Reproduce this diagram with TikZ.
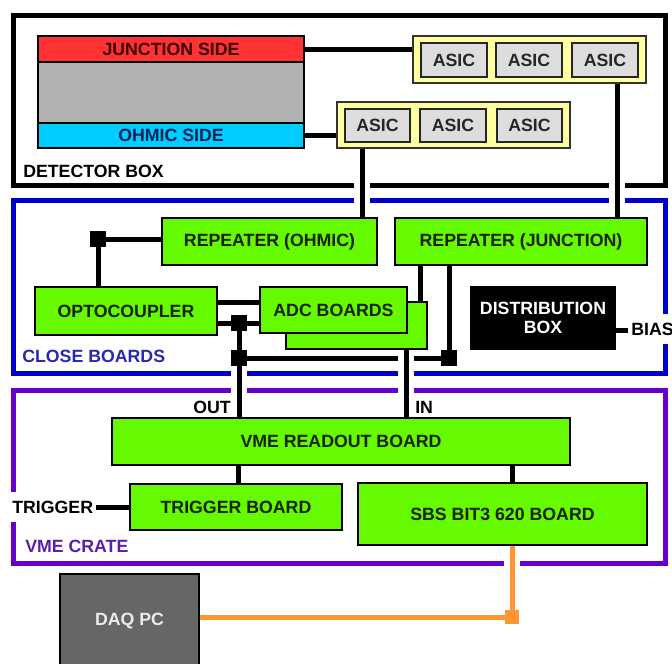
\documentclass[tikz,border=0pt]{standalone}
\usepackage{fontspec}
\setmainfont{Liberation Sans}
\definecolor{boardgreen}{RGB}{102,250,0}
\definecolor{boardtext}{RGB}{16,32,0}
\definecolor{juncred}{RGB}{255,51,51}
\definecolor{junctext}{RGB}{60,0,0}
\definecolor{ohmcyan}{RGB}{0,204,255}
\definecolor{ohmtext}{RGB}{0,34,85}
\definecolor{detgray}{RGB}{178,178,178}
\definecolor{asicyellow}{RGB}{255,255,160}
\definecolor{asicgray}{RGB}{221,221,221}
\definecolor{blueF}{RGB}{0,0,204}
\definecolor{blueT}{RGB}{40,40,180}
\definecolor{purpleF}{RGB}{102,0,204}
\definecolor{purpleT}{RGB}{90,30,175}
\definecolor{orangeW}{RGB}{255,150,50}
\definecolor{daqgray}{RGB}{102,102,102}
\pgfdeclarelayer{frames}
\pgfdeclarelayer{wires}
\pgfsetlayers{frames,wires,main}
\newcommand\bx[7]{%
  \pgfmathsetmacro\bxw{(#5-#3)*0.75}%
  \pgfmathsetmacro\bxh{(#6-#4)*0.75}%
  \node[#1, minimum width=\bxw pt, minimum height=\bxh pt] (#2) at ({(#3+#5)/2},{(#4+#6)/2}) {#7};}
\begin{document}
\begin{tikzpicture}[x=0.75pt,y=-0.75pt,
  every node/.style={font=\fontsize{13.3}{14.5}\selectfont\bfseries},
  box/.style={draw=black, line width=1.6pt, fill=boardgreen, text=boardtext, inner sep=0pt, align=center},
  detpart/.style={draw=black, line width=1.4pt, inner sep=0pt},
  grp/.style={draw=black!80, line width=1.4pt, fill=asicyellow, inner sep=0pt},
  asic/.style={draw=black!85, line width=1.6pt, fill=asicgray, text=black!85, inner sep=0pt},
  frame/.style={line width=3.75pt},
  wire/.style={draw=black, line width=3.75pt, preaction={draw=white, line width=11.5pt}},
  owire/.style={wire, draw=orangeW},
  sq/.style={fill=black, draw=none, minimum size=12pt, inner sep=0pt},
  osq/.style={fill=orangeW, draw=none, minimum size=11pt, inner sep=0pt},
  lbl/.style={anchor=west, inner sep=0pt},
  cover/.style={anchor=west, fill=white, inner xsep=2.25pt, inner ysep=0pt, minimum height=22.5pt}]
\useasboundingbox (0,0) rectangle (672,664);
\clip (0,0) rectangle (672,664);

% ---------- boxes ----------
\bx{detpart, fill=juncred, text=junctext}{junc}{38}{36}{304}{62}{JUNCTION SIDE}
\bx{detpart, fill=detgray}{bulk}{38}{62}{304}{123}{}
\bx{detpart, fill=ohmcyan, text=ohmtext}{ohm}{38}{123}{304}{148}{OHMIC SIDE}

\bx{grp}{grpU}{413}{36}{646}{83}{}
\bx{asic}{u1}{421}{43}{487}{77}{ASIC}
\bx{asic}{u2}{496}{43}{562}{77}{ASIC}
\bx{asic}{u3}{572}{43}{638}{77}{ASIC}
\bx{grp}{grpL}{337}{102}{570}{148}{}
\bx{asic}{l1}{345}{109}{410}{142}{ASIC}
\bx{asic}{l2}{420}{109}{486}{142}{ASIC}
\bx{asic}{l3}{497}{109}{562}{142}{ASIC}

\bx{box}{repO}{162}{218}{377}{265}{REPEATER (OHMIC)}
\bx{box}{repJ}{395}{218}{647}{265}{REPEATER (JUNCTION)}
\bx{box}{opto}{35}{287}{217}{335}{OPTOCOUPLER}
\bx{box}{adcB}{286}{302}{427}{349}{}
\bx{box}{adcF}{260}{287}{407}{333}{ADC BOARDS}
\bx{box, fill=black, text=white}{dist}{471}{287}{615}{349}{DISTRIBUTION\\BOX}

\bx{box}{vme}{112}{418}{570}{465}{VME READOUT BOARD}
\bx{box}{trig}{130}{484}{342}{530}{TRIGGER BOARD}
\bx{box}{sbs}{358}{483}{647}{545}{SBS BIT3 620 BOARD}
\bx{box, fill=daqgray, text=white!92!black}{daq}{60}{574}{199}{668}{DAQ PC}

% ---------- junction squares ----------
\node[sq] (s1) at (98,239) {};
\node[sq] (s2) at (239,323) {};
\node[sq] (s3) at (239,358) {};
\node[sq] (s4) at (449,358) {};
\node[osq] (s5) at (512,617) {};

% ---------- labels ----------
\node[lbl, text=black] (ldet) at (23,171) {DETECTOR BOX};
\node[lbl, text=blueT] (lclose) at (22,356) {CLOSE BOARDS};
\node[lbl, text=purpleT] (lvme) at (25,546) {VME CRATE};
\node[lbl, text=black] (lout) at (193,407) {OUT};
\node[lbl, text=black] (lin) at (415,407) {IN};
\node[cover] (ltrig) at (9,507) {TRIGGER};
\node[cover] (lbias) at (628,329) {BIAS};

\coordinate (x362) at (362,0);
\coordinate (x617) at (617,0);
\coordinate (x406) at (406,0);
\coordinate (x420) at (420,0);
\coordinate (x238) at (238,0);
\coordinate (x512) at (512,0);
\coordinate (y302) at (0,302);
\coordinate (y330) at (0,330);

% ---------- frames ----------
\begin{pgfonlayer}{frames}
\draw[frame, draw=black] (13,15) rectangle (665,185);
\draw[frame, draw=blueF] (13,200) rectangle (665,373);
\draw[frame, draw=purpleF] (13,390) rectangle (665,563);
\end{pgfonlayer}

% ---------- wires ----------
\begin{pgfonlayer}{wires}
\draw[wire] (junc.east) -- (junc.east -| grpU.west);
\draw[wire] (ohm.east) -- (ohm.east -| grpL.west);
\draw[wire] (grpL.south -| x362) -- (repO.north -| x362);
\draw[wire] (grpU.south -| x617) -- (repJ.north -| x617);
\draw[wire] (s1.center) -- (s1 -| repO.west);
\draw[wire] (s1.center) -- (s1 |- opto.north);
\draw[wire] (opto.east |- y302) -- (adcF.west |- y302);
\draw[wire] (opto.east |- s2) -- (adcF.west |- s2);
\draw[wire] (s3.center) -- (s4.center);
\draw[wire] (s2.center) -- (s2 |- vme.north);
\draw[wire] (adcB.south -| x406) -- (vme.north -| x406);
\draw[wire] (repJ.south -| x420) -- (adcB.north -| x420);
\draw[wire] (repJ.south -| s4) -- (s4.center);
\draw[wire] (dist.east |- y330) -- (lbias.west |- y330);
\draw[wire] (ltrig.east) -- (trig.west);
\draw[wire] (vme.south -| x238) -- (trig.north -| x238);
\draw[wire] (vme.south -| x512) -- (sbs.north -| x512);
\draw[owire] (sbs.south -| s5) -- (s5.center) -- (daq.east |- s5);
\end{pgfonlayer}
\end{tikzpicture}
\end{document}
